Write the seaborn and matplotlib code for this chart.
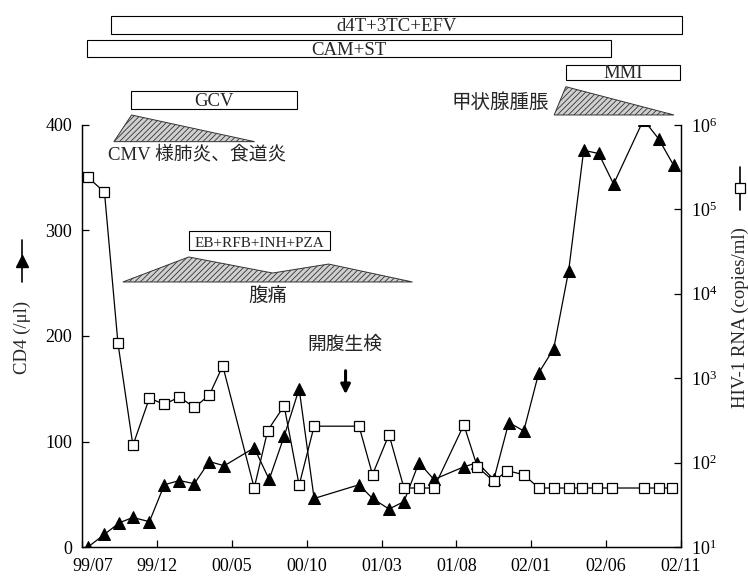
import matplotlib
matplotlib.use('Agg')
import matplotlib.pyplot as plt
import seaborn as sns
from matplotlib.patches import Polygon, Rectangle
from matplotlib.lines import Line2D
from matplotlib.ticker import LogLocator, LogFormatterMathtext, NullLocator
from matplotlib.transforms import ScaledTranslation

# months since 99/07
months_cd4 = [0.4, 1.5, 2.5, 3.4, 4.5, 5.5, 6.5, 7.5, 8.5, 9.5, 11.5, 12.5, 13.5, 14.5,
              15.5, 18.5, 19.4, 20.5, 21.5, 22.5, 23.5, 25.5, 26.4, 27.5, 28.5, 29.5,
              30.5, 31.5, 32.5, 33.5, 34.5, 35.5, 37.5, 38.5, 39.5]
cd4 = [0, 12, 23, 28, 24, 59, 63, 60, 81, 77, 94, 64, 105, 150,
       46, 59, 46, 36, 43, 80, 64, 76, 80, 64, 118, 110,
       165, 188, 262, 376, 373, 344, 405, 387, 362]

months_rna = [0.4, 1.5, 2.4, 3.4, 4.5, 5.5, 6.5, 7.5, 8.5, 9.4, 11.5, 12.4, 13.5, 14.5,
              15.5, 18.5, 19.4, 20.5, 21.5, 22.5, 23.5, 25.5, 26.4, 27.5, 28.4, 29.5,
              30.5, 31.5, 32.5, 33.4, 34.4, 35.4, 37.5, 38.5, 39.4]
rna = [2.4e5, 1.6e5, 2600, 160, 580, 490, 600, 450, 630, 1400, 50, 240, 470, 54,
       270, 270, 72, 215, 50, 50, 50, 280, 89, 60, 80, 72,
       50, 50, 50, 50, 50, 50, 50, 50, 50]

tick_months = [0, 5, 10, 15, 20, 25, 30, 35, 40]
tick_labels = ['99/07', '99/12', '00/05', '00/10', '01/03', '01/08', '02/01', '02/06', '02/11']

# treatment bars: label, start, end (months)
drugs = ['d4T+3TC+EFV', 'CAM+ST', 'MMI', 'GCV', 'EB+RFB+INH+PZA']
drug_start = [1.93, 0.33, 32.33, 3.27, 7.13]
drug_end = [40.07, 35.33, 39.93, 14.33, 16.53]

sns.set_style('ticks')
plt.rcParams['font.family'] = ['Liberation Serif', 'Noto Sans CJK JP']
plt.rcParams['mathtext.fontset'] = 'stix'
plt.rcParams['hatch.linewidth'] = 0.6

fig = plt.figure(figsize=(7.48, 5.77), dpi=100)
ax = fig.add_axes([82 / 748, 30 / 577, 599 / 748, 422 / 577])
ax2 = ax.twinx()
ax2.set_yscale('log')

sns.lineplot(x=months_cd4, y=cd4, ax=ax, color='black', linewidth=0.9, marker='^',
             markersize=9, markeredgecolor='black', markerfacecolor='black',
             estimator=None, sort=False)
sns.lineplot(x=months_rna, y=rna, ax=ax2, color='black', linewidth=0.9, marker='s',
             markersize=7.5, markeredgecolor='black', markerfacecolor='white',
             markeredgewidth=0.9, estimator=None, sort=False)

ax.set_xlim(0, 40)
ax.set_ylim(0, 400)
ax2.set_ylim(10, 1e6)
ax.set_xticks(tick_months)
ax.set_xticklabels(tick_labels)
ax.set_yticks([0, 100, 200, 300, 400])
ax.set_xlabel('')
ax.set_ylabel('')
ax2.set_ylabel('')
ax2.yaxis.set_major_locator(LogLocator(base=10, numticks=10))
ax2.yaxis.set_major_formatter(LogFormatterMathtext())
ax2.yaxis.set_minor_locator(NullLocator())

for a in (ax, ax2):
    a.spines['top'].set_visible(False)
    for s in ('left', 'right', 'bottom'):
        a.spines[s].set_linewidth(0.9)
        a.spines[s].set_color('black')
ax.tick_params(direction='in', length=5, width=0.9, labelsize=13, pad=7, colors='black')
ax.tick_params(axis='x', pad=8)
ax2.tick_params(direction='in', length=5, width=0.9, labelsize=13, pad=7, colors='black')

first = ax.get_xticklabels()[0]
first.set_transform(first.get_transform() + ScaledTranslation(8 / 72, 0, fig.dpi_scale_trans))

# treatment boxes
box_y = [(486.3, 503.3), (464.5, 480.6), (442.7, 456.9), (415.2, 432.2), (281.5, 299.5)]
box_fs = [13.5, 13.5, 13.5, 13.5, 11]
for name, x0, x1, (y0, y1), fs in zip(drugs, drug_start, drug_end, box_y, box_fs):
    ax.add_patch(Rectangle((x0, y0), x1 - x0, y1 - y0, facecolor='white', edgecolor='black',
                           linewidth=0.8, clip_on=False, zorder=5))
    ax.text((x0 + x1) / 2, y0 + 0.14 * (y1 - y0), name, ha='center', va='baseline',
            fontsize=fs, clip_on=False, zorder=6)

# symptom shapes
shapes = [
    [(2.13, 384.2), (3.31, 409.5), (11.53, 384.2)],
    [(2.73, 251.2), (7.13, 274.9), (12.73, 259.7), (16.47, 268.2), (22.07, 251.2)],
    [(31.53, 409.5), (32.31, 436.3), (39.53, 409.5)],
]
for pts in shapes:
    ax.add_patch(Polygon(pts, closed=True, facecolor='#d0d0d0', edgecolor='#333333',
                         hatch='//////', linewidth=0.7, clip_on=False, zorder=4))

ax.text(7.67, 371.6, 'CMV 様肺炎、食道炎', ha='center', va='center', fontsize=13.5, clip_on=False)
ax.text(12.4, 237.9, '腹痛', ha='center', va='center', fontsize=14)
ax.text(17.53, 191.5, '開腹生検', ha='center', va='center', fontsize=13.5)
ax.text(31.2, 420.9, '甲状腺腫脹', ha='right', va='center', fontsize=14, clip_on=False)
ax.annotate('', xy=(17.6, 142.2), xytext=(17.6, 169.7),
            arrowprops=dict(arrowstyle='-|>', color='black', lw=2.2, mutation_scale=14))

# axis labels with series markers
fig.text(22 / 748, 0.416, 'CD4 (/μl)', rotation=90, ha='center', va='center', fontsize=13.5)
fig.add_artist(Line2D([22 / 748, 22 / 748], [0.584, 0.511], color='black', linewidth=1.2))
fig.add_artist(Line2D([22 / 748], [0.5477], marker='^', markersize=9, color='black'))
fig.text(740 / 748, 0.449, 'HIV-1 RNA (copies/ml)', rotation=90, ha='center', va='center',
         fontsize=13.5)
fig.add_artist(Line2D([740 / 748, 740 / 748], [0.7106, 0.636], color='black', linewidth=1.2))
fig.add_artist(Line2D([740 / 748], [0.674], marker='s', markersize=7.5, color='black',
                      markerfacecolor='white', markeredgewidth=0.9))

fig.savefig('out.png', dpi=100)
